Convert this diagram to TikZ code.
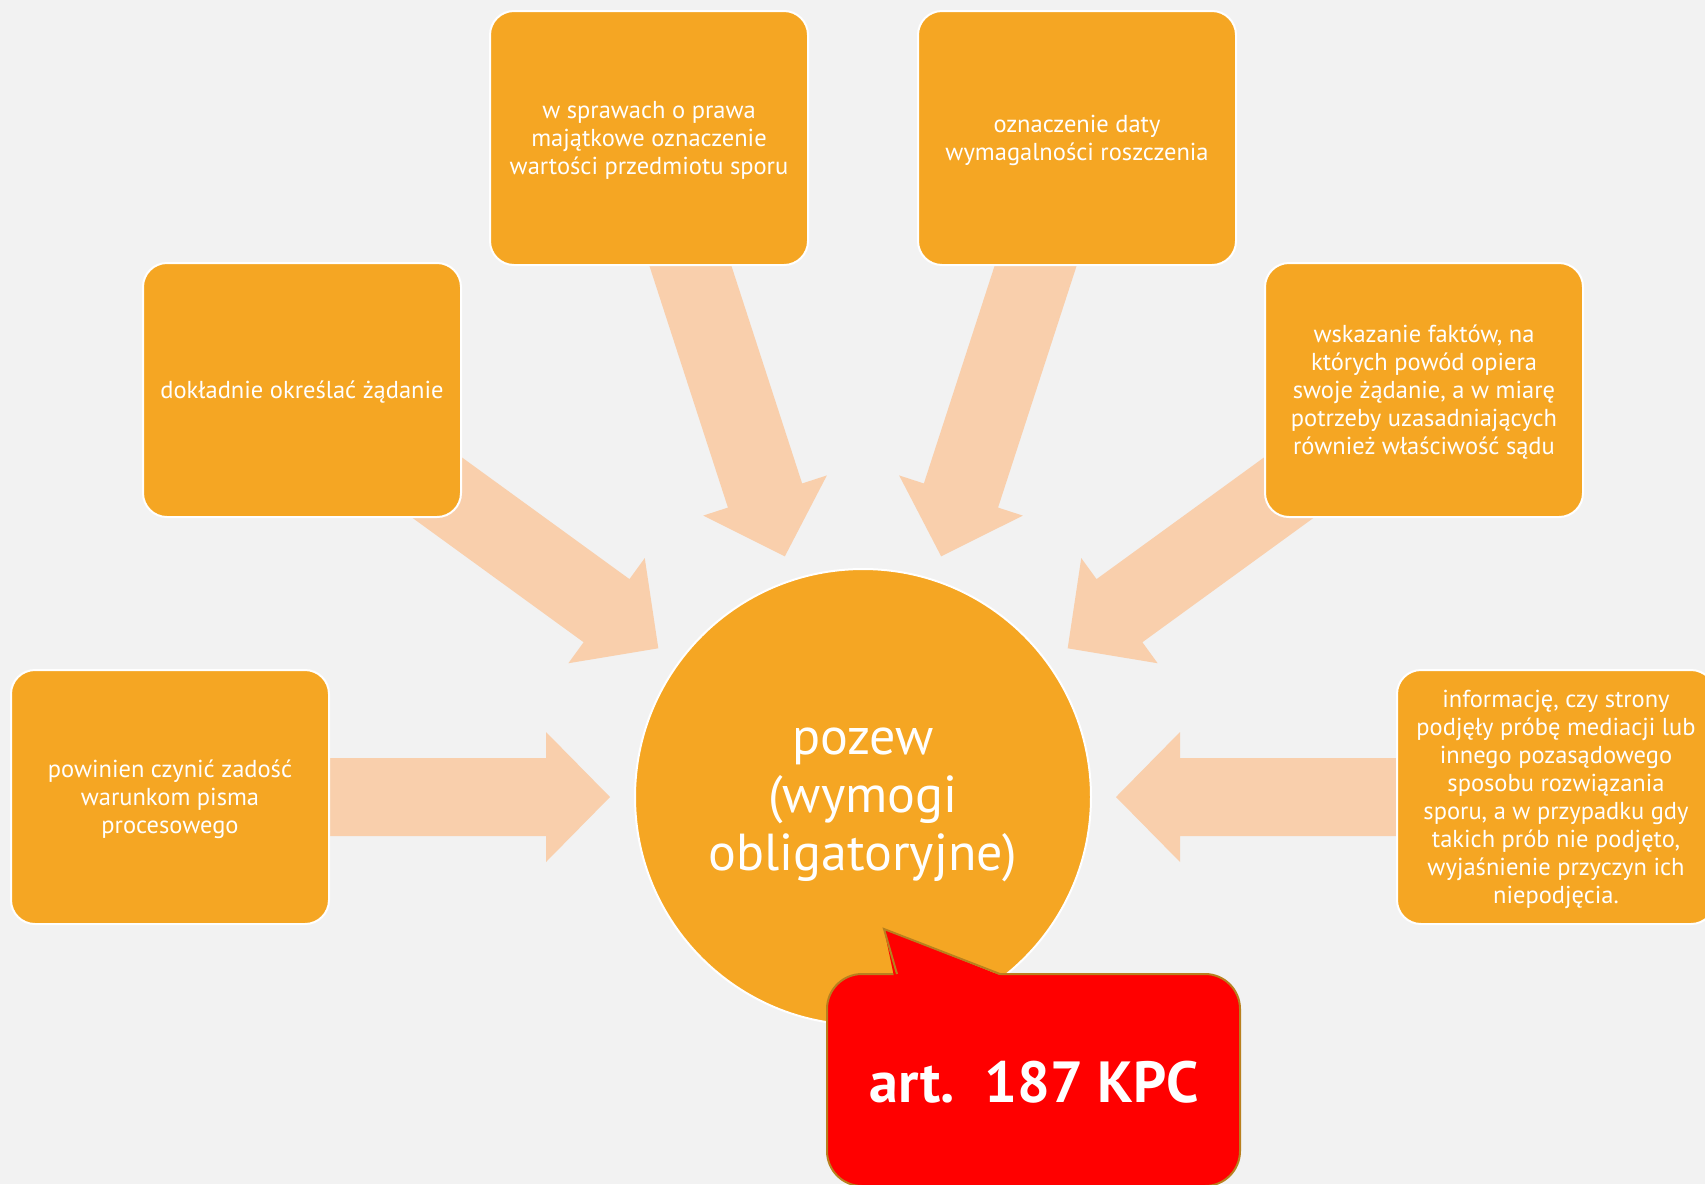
\documentclass[tikz,border=0pt]{standalone}
\usepackage{fontspec}
\setmainfont{PT Sans}
\definecolor{bg}{HTML}{F2F2F2}
\definecolor{boxor}{HTML}{F5A623}
\definecolor{arrowc}{HTML}{F9CFAC}
\definecolor{callred}{HTML}{FF0000}
\definecolor{callbrd}{HTML}{B8801E}
\begin{document}
\begin{tikzpicture}[x=1pt,y=-1pt,
  itembox/.style={draw=white,line width=2pt,fill=boxor,rounded corners=24pt,
    minimum width=318pt,minimum height=254pt,align=center,text=white,
    font=\fontsize{24.5}{28}\selectfont,inner sep=0pt,text depth=0pt},
  hub/.style={circle,draw=white,line width=2pt,fill=boxor,minimum size=456pt,inner sep=0pt},
  hubtext/.style={align=center,text=white,font=\fontsize{52}{58}\selectfont,inner sep=0pt},
  radarrow/.style={fill=arrowc,draw=none}]
\fill[bg] (0,0) rectangle (1705,1184);
\useasboundingbox (0,0) rectangle (1705,1184);
\coordinate (c) at (863,797);
% arrows
\foreach \a in {0,36,72,108,144,180}{
  \begin{scope}[shift={(c)},rotate=\a]
    \fill[radarrow] (253,0) -- (317,65) -- (317,39) -- (600,39) -- (600,-39) -- (317,-39) -- (317,-65) -- cycle;
  \end{scope}
}
\node[hub] (hub) at (c) {};
\node[hubtext] (hubt) at ([shift={(0,8)}]c) {pozew\\(wymogi\\obligatoryjne)};
\node[itembox] (b1) at ([shift={(-693,0)}]c) {powinien czynić zadość\\warunkom pisma\\procesowego};
\node[itembox] (b2) at ([shift={(-561,-407)}]c) {dokładnie określać żądanie};
\node[itembox] (b3) at ([shift={(-214,-659)}]c) {w sprawach o prawa\\majątkowe oznaczenie\\wartości przedmiotu sporu};
\node[itembox] (b4) at ([shift={(214,-659)}]c) {oznaczenie daty\\wymagalności roszczenia};
\node[itembox] (b5) at ([shift={(561,-407)}]c) {wskazanie faktów, na\\których powód opiera\\swoje żądanie, a w miarę\\potrzeby uzasadniających\\również właściwość sądu};
\node[itembox] (b6) at ([shift={(693,0)}]c) {informację, czy strony\\podjęły próbę mediacji lub\\innego pozasądowego\\sposobu rozwiązania\\sporu, a w przypadku gdy\\takich prób nie podjęto,\\wyjaśnienie przyczyn ich\\niepodjęcia.};
% callout
\draw[fill=callred,draw=callbrd,line width=2pt,rounded corners=35pt] (827,974) rectangle (1240,1186);
\fill[callred] (894,976.5) -- (884,929) -- (1003,976.5) -- cycle;
\draw[callbrd,line width=2pt,line join=miter] (897,974) -- (884,929) -- (1000,974);
\node[text=white,font=\bfseries\fontsize{58}{64}\selectfont,inner sep=0pt] (kpc) at (1034,1082) {art.\ \ 187 KPC};
\end{tikzpicture}
\end{document}
